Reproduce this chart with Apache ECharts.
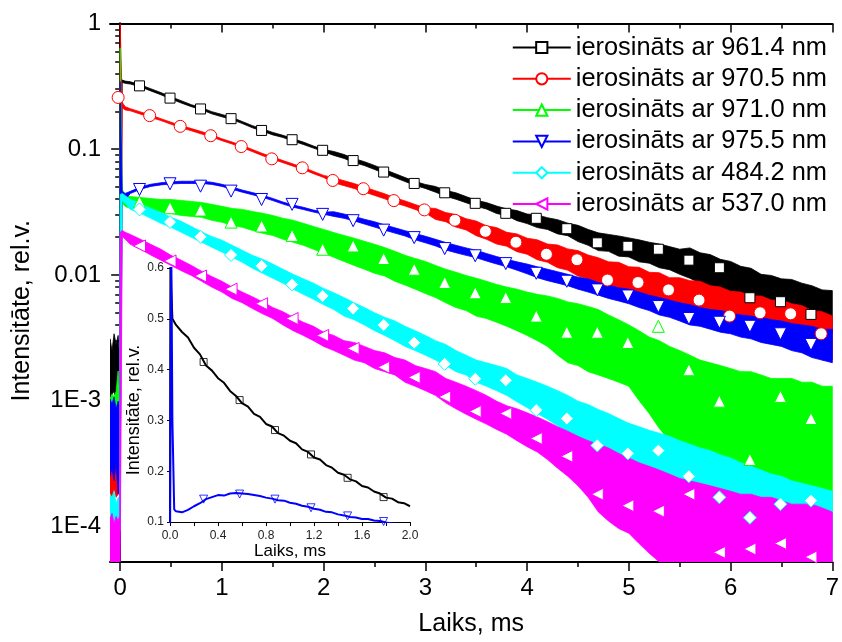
<!DOCTYPE html>
<html>
<head>
<meta charset="utf-8">
<script src="https://cdn.jsdelivr.net/npm/echarts@6/dist/echarts.min.js"></script>
<style>
html, body { margin: 0; padding: 0; background: #ffffff; }
#chart { width: 842px; height: 642px; }
</style>
</head>
<body>
<div id="chart"></div>
<script>
// ---- Luminescence decay curves (time in ms, intensity rel. units) ----
const timeMs = [
  -0.1, -0.08, -0.06, -0.04, -0.02, -0.005, 0, 0.02, 0.05,
  0.1, 0.2, 0.3, 0.4, 0.5, 0.6, 0.7, 0.8, 0.9, 1.0,
  1.1, 1.2, 1.3, 1.4, 1.5, 1.6, 1.7, 1.8, 1.9, 2.0,
  2.1, 2.2, 2.3, 2.4, 2.5, 2.6, 2.7, 2.8, 2.9, 3.0,
  3.1, 3.2, 3.3, 3.4, 3.5, 3.6, 3.7, 3.8, 3.9, 4.0,
  4.1, 4.2, 4.3, 4.4, 4.5, 4.6, 4.7, 4.8, 4.9, 5.0,
  5.1, 5.2, 5.3, 5.4, 5.5, 5.6, 5.7, 5.8, 5.9, 6.0,
  6.1, 6.2, 6.3, 6.4, 6.5, 6.6, 6.7, 6.8, 6.9, 7.0
];

// upper / lower edges of the noisy trace for each excitation wavelength
const exc961Hi = [
  0.0031, 0.0025, 0.0034, 0.0028, 0.0033, 0.0021, 0.356, 0.355, 0.348,
  0.344, 0.325, 0.303, 0.282, 0.261, 0.243, 0.226, 0.214, 0.199, 0.189,
  0.179, 0.166, 0.154, 0.145, 0.136, 0.129, 0.121, 0.114, 0.106, 0.0995,
  0.0959, 0.0908, 0.0842, 0.0796, 0.0743, 0.0689, 0.0640, 0.0595, 0.0554, 0.0524,
  0.0505, 0.0470, 0.0450, 0.0420, 0.0392, 0.0376, 0.0353, 0.0335, 0.0325, 0.0305,
  0.0300, 0.0285, 0.0275, 0.0258, 0.0248, 0.0230, 0.0216, 0.0210, 0.0204, 0.0197,
  0.0190, 0.0182, 0.0176, 0.0168, 0.0160, 0.0164, 0.0150, 0.0145, 0.0133, 0.0128,
  0.0117, 0.0113, 0.0101, 0.0099, 0.0093, 0.0092, 0.0086, 0.0082, 0.0076, 0.0075
];
const exc961Lo = [
  0.00103, 0.00113, 0.00118, 0.00103, 0.00111, 0.00099, 0.00099, 0.340, 0.334,
  0.330, 0.313, 0.291, 0.271, 0.251, 0.233, 0.218, 0.206, 0.191, 0.181,
  0.172, 0.160, 0.148, 0.139, 0.130, 0.124, 0.116, 0.109, 0.102, 0.0956,
  0.0892, 0.0845, 0.0783, 0.0741, 0.0690, 0.0640, 0.0595, 0.0553, 0.0515, 0.0487,
  0.0455, 0.0422, 0.0400, 0.0375, 0.0352, 0.0334, 0.0308, 0.0296, 0.0270, 0.0256,
  0.0238, 0.0230, 0.0212, 0.0205, 0.0184, 0.0172, 0.0156, 0.0154, 0.0141, 0.0139,
  0.0127, 0.0124, 0.0114, 0.0110, 0.0101, 0.0094, 0.0086, 0.0082, 0.0073, 0.0070,
  0.0062, 0.0060, 0.0053, 0.0051, 0.0047, 0.0045, 0.0041, 0.0039, 0.0036, 0.0034
];

const exc970Hi = [
  0.00045, 0.0005, 0.00042, 0.00045, 0.0005, 0.00045, 1.0, 0.235, 0.218,
  0.210, 0.198, 0.187, 0.175, 0.164, 0.154, 0.146, 0.138, 0.130, 0.121,
  0.114, 0.107, 0.0995, 0.0924, 0.0867, 0.0813, 0.0763, 0.0717, 0.0665, 0.0619,
  0.0593, 0.0562, 0.0533, 0.0500, 0.0470, 0.0442, 0.0410, 0.0388, 0.0363, 0.0341,
  0.0338, 0.0313, 0.0302, 0.0280, 0.0268, 0.0246, 0.0238, 0.0218, 0.0212, 0.0196,
  0.0190, 0.0176, 0.0173, 0.0161, 0.0156, 0.0144, 0.0137, 0.0127, 0.0126, 0.0116,
  0.0115, 0.0105, 0.0104, 0.0095, 0.0095, 0.0090, 0.0089, 0.0082, 0.0080, 0.0074,
  0.0073, 0.0068, 0.0068, 0.0063, 0.0063, 0.0059, 0.0057, 0.0052, 0.0051, 0.0047
];
const exc970Lo = [
  0.00018, 0.00017, 0.0002, 0.00017, 0.00018, 0.0002, 0.0002, 0.214, 0.205,
  0.202, 0.190, 0.179, 0.169, 0.158, 0.148, 0.140, 0.132, 0.125, 0.117,
  0.110, 0.103, 0.0956, 0.0888, 0.0833, 0.0781, 0.0733, 0.0689, 0.0639, 0.0595,
  0.0541, 0.0513, 0.0486, 0.0457, 0.0429, 0.0403, 0.0374, 0.0354, 0.0331, 0.0311,
  0.0276, 0.0265, 0.0240, 0.0228, 0.0205, 0.0192, 0.0176, 0.0169, 0.0153, 0.0146,
  0.0132, 0.0126, 0.0114, 0.0109, 0.0098, 0.0093, 0.0083, 0.0079, 0.0070, 0.0068,
  0.0062, 0.0061, 0.0054, 0.0053, 0.0049, 0.0046, 0.0042, 0.0041, 0.0038, 0.0037,
  0.0035, 0.0034, 0.0032, 0.0032, 0.0029, 0.0028, 0.0026, 0.0025, 0.0021, 0.0021
];

const exc971Hi = [
  0.00103, 0.00113, 0.00107, 0.00118, 0.00172, 0.00107, 0.64, 0.0478, 0.0436,
  0.0420, 0.0413, 0.0405, 0.0398, 0.0398, 0.0391, 0.0384, 0.0377, 0.0364, 0.0351,
  0.0338, 0.0332, 0.0320, 0.0309, 0.0297, 0.0282, 0.0272, 0.0257, 0.0243, 0.0230,
  0.0217, 0.0206, 0.0196, 0.0185, 0.0175, 0.0165, 0.0154, 0.0143, 0.0135, 0.0128,
  0.0119, 0.0111, 0.0105, 0.0099, 0.0094, 0.0089, 0.0084, 0.0080, 0.0077, 0.0073,
  0.0070, 0.0068, 0.0065, 0.0061, 0.0059, 0.0056, 0.0053, 0.0048, 0.0044, 0.0040,
  0.0036, 0.0032, 0.0030, 0.0027, 0.0025, 0.0023, 0.0021, 0.0020, 0.0019, 0.0018,
  0.0017, 0.0017, 0.0016, 0.0015, 0.0015, 0.0015, 0.0014, 0.0014, 0.0013, 0.0013
];
const exc971Lo = [
  0.00072, 0.00066, 0.00079, 0.00062, 0.00072, 0.00075, 0.00075, 0.0371, 0.0350,
  0.0338, 0.0332, 0.0320, 0.0314, 0.0308, 0.0297, 0.0292, 0.0287, 0.0272, 0.0262,
  0.0248, 0.0239, 0.0226, 0.0214, 0.0206, 0.0192, 0.0182, 0.0172, 0.0160, 0.0149,
  0.0138, 0.0128, 0.0119, 0.0111, 0.0103, 0.0098, 0.0089, 0.0083, 0.0077, 0.0071,
  0.0066, 0.0060, 0.0055, 0.0052, 0.0047, 0.0045, 0.0042, 0.0039, 0.0036, 0.0033,
  0.0030, 0.0027, 0.0023, 0.0020, 0.0019, 0.0017, 0.0016, 0.0015, 0.0014, 0.0013,
  0.0010, 0.00079, 0.0006, 0.00048, 0.0004, 0.00034, 0.0003, 0.00025, 0.0002, 0.00017,
  0.00017, 0.00015, 0.00015, 0.00014, 0.00012, 0.0001, 0.000088, 0.00008, 0.000073, 0.000067
];

const exc975Hi = [
  0.00103, 0.00094, 0.00107, 0.00086, 0.00099, 0.00088, 0.345, 0.0460, 0.0445,
  0.0462, 0.0500, 0.0526, 0.0541, 0.0551, 0.0556, 0.0556, 0.0556, 0.0546, 0.0526,
  0.0500, 0.0473, 0.0452, 0.0430, 0.0406, 0.0380, 0.0360, 0.0345, 0.0328, 0.0316,
  0.0318, 0.0305, 0.0292, 0.0277, 0.0265, 0.0250, 0.0237, 0.0225, 0.0213, 0.0203,
  0.0192, 0.0181, 0.0172, 0.0164, 0.0157, 0.0148, 0.0140, 0.0133, 0.0127, 0.0122,
  0.0116, 0.0111, 0.0106, 0.0101, 0.0096, 0.0093, 0.0087, 0.0083, 0.0079, 0.0077,
  0.0073, 0.0069, 0.0066, 0.0063, 0.0060, 0.0058, 0.0055, 0.0053, 0.0052, 0.0050,
  0.0048, 0.0047, 0.0046, 0.0044, 0.0043, 0.0041, 0.0040, 0.0039, 0.0037, 0.0037
];
const exc975Lo = [
  0.00025, 0.00029, 0.00023, 0.00032, 0.00018, 0.00026, 0.00026, 0.0405, 0.0398,
  0.0444, 0.0480, 0.0506, 0.0520, 0.0529, 0.0534, 0.0534, 0.0534, 0.0525, 0.0506,
  0.0480, 0.0455, 0.0434, 0.0414, 0.0390, 0.0366, 0.0346, 0.0331, 0.0316, 0.0304,
  0.0292, 0.0282, 0.0269, 0.0254, 0.0240, 0.0227, 0.0215, 0.0204, 0.0190, 0.0180,
  0.0170, 0.0158, 0.0150, 0.0143, 0.0137, 0.0129, 0.0122, 0.0116, 0.0109, 0.0102,
  0.0095, 0.0090, 0.0086, 0.0082, 0.0077, 0.0073, 0.0069, 0.0065, 0.0062, 0.0059,
  0.0055, 0.0052, 0.0048, 0.0046, 0.0043, 0.0040, 0.0039, 0.0037, 0.0035, 0.0034,
  0.0032, 0.0031, 0.0029, 0.0028, 0.0027, 0.0025, 0.0024, 0.0022, 0.0021, 0.0020
];

const exc484Hi = [
  0.00018, 0.00017, 0.00019, 0.00015, 0.00017, 0.00017, 0.0436, 0.0445, 0.0427,
  0.0398, 0.0371, 0.0338, 0.0314, 0.0287, 0.0267, 0.0243, 0.0220, 0.0202, 0.0189,
  0.0172, 0.0157, 0.0143, 0.0133, 0.0122, 0.0111, 0.0101, 0.0093, 0.0086, 0.0078,
  0.0072, 0.0066, 0.0060, 0.0055, 0.0050, 0.0046, 0.0043, 0.0039, 0.0036, 0.0033,
  0.0030, 0.0028, 0.0025, 0.0023, 0.0021, 0.0020, 0.0019, 0.0018, 0.0016, 0.0015,
  0.0014, 0.0013, 0.0012, 0.0011, 0.00099, 0.00093, 0.00085, 0.00079, 0.00072, 0.00066,
  0.00062, 0.00058, 0.00055, 0.00052, 0.00048, 0.00045, 0.00042, 0.0004, 0.00037, 0.00035,
  0.00032, 0.0003, 0.00028, 0.00026, 0.00025, 0.00023, 0.00022, 0.00021, 0.0002, 0.00019
];
const exc484Lo = [
  0.000088, 0.000096, 0.00008, 0.000099, 0.000083, 0.000092, 0.000092, 0.0391, 0.0371,
  0.0332, 0.0309, 0.0282, 0.0257, 0.0239, 0.0218, 0.0199, 0.0182, 0.0166, 0.0152,
  0.0138, 0.0126, 0.0113, 0.0103, 0.0094, 0.0086, 0.0077, 0.0070, 0.0064, 0.0058,
  0.0053, 0.0047, 0.0044, 0.0040, 0.0036, 0.0033, 0.0030, 0.0027, 0.0025, 0.0023,
  0.0021, 0.0019, 0.0017, 0.0016, 0.0014, 0.0013, 0.0012, 0.0011, 0.00098, 0.00088,
  0.00079, 0.00071, 0.00063, 0.00056, 0.0005, 0.00045, 0.0004, 0.00036, 0.00032, 0.00029,
  0.00026, 0.00023, 0.00021, 0.00019, 0.00017, 0.00015, 0.00013, 0.00012, 0.00011, 0.000096,
  0.00008, 0.000067, 0.000056, 0.00005, 0.00005, 0.00005, 0.00005, 0.00005, 0.00005, 0.00005
];

const exc537Hi = [
  0.000116, 0.000127, 0.000105, 0.00012, 0.00011, 0.000122, 0.0218, 0.0226, 0.0218,
  0.0210, 0.0192, 0.0175, 0.0160, 0.0143, 0.0131, 0.0119, 0.0107, 0.0097, 0.0089,
  0.0080, 0.0073, 0.0067, 0.0061, 0.0055, 0.0051, 0.0046, 0.0042, 0.0039, 0.0035,
  0.0033, 0.0030, 0.0029, 0.0027, 0.0025, 0.0024, 0.0022, 0.0021, 0.0019, 0.0018,
  0.0017, 0.0015, 0.0014, 0.0013, 0.0012, 0.0011, 0.00099, 0.00091, 0.00086, 0.0008,
  0.00074, 0.00068, 0.00062, 0.00057, 0.00052, 0.00048, 0.00045, 0.00042, 0.00038, 0.00035,
  0.00032, 0.0003, 0.00028, 0.00026, 0.00024, 0.00023, 0.00022, 0.00021, 0.0002, 0.00019,
  0.00018, 0.00018, 0.00017, 0.00017, 0.00016, 0.00015, 0.00015, 0.00015, 0.00014, 0.00013
];
const exc537Lo = [
  0.00005, 0.00005, 0.00005, 0.00005, 0.00005, 0.00005, 0.00005, 0.0202, 0.0192,
  0.0175, 0.0160, 0.0144, 0.0131, 0.0119, 0.0108, 0.0099, 0.0089, 0.0080, 0.0073,
  0.0065, 0.0060, 0.0054, 0.0049, 0.0045, 0.0040, 0.0036, 0.0033, 0.0030, 0.0027,
  0.0025, 0.0023, 0.0021, 0.0020, 0.0018, 0.0017, 0.0016, 0.0014, 0.0013, 0.0012,
  0.0011, 0.00096, 0.00086, 0.00078, 0.00071, 0.00065, 0.00059, 0.00054, 0.00048, 0.00043,
  0.00039, 0.00034, 0.00029, 0.00025, 0.00021, 0.00017, 0.00013, 0.00011, 0.000096, 0.000088,
  0.000073, 0.000061, 0.00005, 0.00005, 0.00005, 0.00005, 0.00005, 0.00005, 0.00005, 0.00005,
  0.00005, 0.00005, 0.00005, 0.00005, 0.00005, 0.00005, 0.00005, 0.00005, 0.00005, 0.00005
];

// symbols sit on every n-th sample of each trace
const markTimes = [0.19, 0.49, 0.79, 1.09, 1.39, 1.69, 1.99, 2.29, 2.59, 2.89, 3.19, 3.49,
  3.79, 4.09, 4.39, 4.69, 4.99, 5.29, 5.59, 5.89, 6.19, 6.49, 6.79];
const markTimes970 = [-0.02, 0.29, 0.59, 0.89, 1.19, 1.49, 1.79, 2.09, 2.39, 2.69, 2.99, 3.29,
  3.59, 3.89, 4.19, 4.49, 4.79, 5.09, 5.39, 5.69, 5.99, 6.29, 6.59, 6.89];
const marks961 = [0.319, 0.255, 0.209, 0.175, 0.141, 0.119, 0.098, 0.0812, 0.0658, 0.0534, 0.045, 0.0371,
  0.0309, 0.0282, 0.0233, 0.018, 0.0169, 0.016, 0.0131, 0.0114, 0.00658, 0.00612, 0.00485];
const marks970 = [0.258, 0.185, 0.152, 0.128, 0.105, 0.0838, 0.0711, 0.0564, 0.0485, 0.039, 0.0329, 0.0272,
  0.0222, 0.0182, 0.0146, 0.0132, 0.0091, 0.0087, 0.0076, 0.0063, 0.0047, 0.005, 0.0049, 0.0034];
const marks971 = [0.038, 0.0342, 0.0328, 0.0263, 0.0245, 0.0206, 0.016, 0.017, 0.0135, 0.0111, 0.0087, 0.0072,
  0.0066, 0.0047, 0.0035, 0.0035, 0.0029, 0.0039, 0.00176, 0.00099, 0.00034, 0.00108, 0.00072];
const marks975 = [0.0478, 0.0531, 0.0508, 0.0464, 0.0398, 0.0364, 0.0303, 0.027, 0.0227, 0.0198, 0.0162, 0.0142,
  0.0123, 0.0103, 0.0089, 0.0076, 0.0068, 0.0056, 0.0045, 0.0042, 0.0039, 0.0034, 0.0028];
const marks484 = [0.0332, 0.0263, 0.0201, 0.0144, 0.0118, 0.0084, 0.0068, 0.0054, 0.004, 0.00289, 0.00196, 0.00149,
  0.00145, 0.00084, 0.00072, 0.00044, 0.00038, 0.0004, 0.00025, 0.00017, 0.000117, 0.00015, 0.00016];
const marks537 = [0.017, 0.0129, 0.0098, 0.0077, 0.0059, 0.0045, 0.0033, 0.0026, 0.00184, 0.00153, 0.00107, 0.00082,
  0.00079, 0.0005, 0.00036, 0.00018, 0.000146, 0.000132, 0.00018, 0.000062, 0.000066, 0.000073, 0.000057];

// inset: linear-scale view of the first 2 ms
const insetTime = [0, 0.004, 0.01, 0.02, 0.035, 0.05, 0.1, 0.15, 0.2, 0.25, 0.3, 0.35, 0.4, 0.45, 0.5,
  0.55, 0.6, 0.65, 0.7, 0.75, 0.8, 0.85, 0.9, 0.95, 1.0, 1.05, 1.1, 1.15, 1.2, 1.25, 1.3,
  1.35, 1.4, 1.45, 1.5, 1.55, 1.6, 1.65, 1.7, 1.75, 1.8, 1.85, 1.9, 1.95, 2.0];
const inset961 = [0.05, 0.66, 0.56, 0.50, 0.497, 0.488, 0.474, 0.463, 0.443, 0.43, 0.408, 0.398, 0.383, 0.374, 0.358,
  0.348, 0.334, 0.327, 0.313, 0.307, 0.293, 0.288, 0.275, 0.27, 0.26, 0.255, 0.243, 0.238, 0.227, 0.223, 0.212,
  0.207, 0.197, 0.193, 0.184, 0.18, 0.171, 0.168, 0.16, 0.156, 0.148, 0.146, 0.139, 0.137, 0.131];
const inset975 = [0.05, 0.05, 0.66, 0.30, 0.125, 0.121, 0.119, 0.124, 0.131, 0.137, 0.145, 0.149, 0.153, 0.152, 0.156,
  0.157, 0.156, 0.155, 0.153, 0.151, 0.148, 0.146, 0.143, 0.142, 0.138, 0.136, 0.132, 0.13, 0.126, 0.124, 0.12,
  0.119, 0.115, 0.113, 0.11, 0.109, 0.106, 0.106, 0.103, 0.102, 0.099, 0.097, 0.096, 0.094, 0.093];
const insetMarkTimes = [0.28, 0.58, 0.875, 1.175, 1.48, 1.78];
const insetMarks961 = [0.415, 0.34, 0.281, 0.233, 0.187, 0.149];
const insetMarks975 = [0.145, 0.155, 0.145, 0.128, 0.112, 0.101];

// axis ticks
const xMajorTicks = [0, 1, 2, 3, 4, 5, 6, 7];
const xMinorTicks = [0.5, 1.5, 2.5, 3.5, 4.5, 5.5, 6.5];
const yMajorTicks = [1e-4, 1e-3, 0.01, 0.1, 1];
const yMinorTicks = [6e-5, 7e-5, 8e-5, 9e-5];
[1e-4, 1e-3, 1e-2, 1e-1].forEach(d => { for (let k = 2; k <= 9; k++) yMinorTicks.push(+(d * k).toPrecision(3)); });
const insetXTicks = [0, 0.2, 0.4, 0.6, 0.8, 1.0, 1.2, 1.4, 1.6, 1.8, 2.0];
const insetXLabels = [0, 0.4, 0.8, 1.2, 1.6, 2.0];

const FONT = 'Liberation Sans, Arial, Helvetica, sans-serif';
const Y_MIN = 5.2e-5, Y_MAX = 1;

const traces = [
  { name: 'ierosināts ar 961.4 nm', color: '#000000', hi: exc961Hi, lo: exc961Lo, mt: markTimes, mv: marks961, symbol: 'rect', size: 10, rot: 0 },
  { name: 'ierosināts ar 970.5 nm', color: '#ff0000', hi: exc970Hi, lo: exc970Lo, mt: markTimes970, mv: marks970, symbol: 'circle', size: 12, rot: 0 },
  { name: 'ierosināts ar 971.0 nm', color: '#00ff00', hi: exc971Hi, lo: exc971Lo, mt: markTimes, mv: marks971, symbol: 'triangle', size: 12, rot: 0 },
  { name: 'ierosināts ar 975.5 nm', color: '#0000ff', hi: exc975Hi, lo: exc975Lo, mt: markTimes, mv: marks975, symbol: 'triangle', size: 12, rot: 180 },
  { name: 'ierosināts ar 484.2 nm', color: '#00ffff', hi: exc484Hi, lo: exc484Lo, mt: markTimes, mv: marks484, symbol: 'diamond', size: 13, rot: 0 },
  { name: 'ierosināts ar 537.0 nm', color: '#ff00ff', hi: exc537Hi, lo: exc537Lo, mt: markTimes, mv: marks537, symbol: 'triangle', size: 12, rot: 90 }
];

function bandSeries(tr, idx) {
  return {
    type: 'custom', id: 'band' + idx, xAxisIndex: 0, yAxisIndex: 0,
    clip: true, silent: true,
    data: [[timeMs[0], tr.hi[0]]],
    renderItem(params, api) {
      const cs = params.coordSys;
      const clampY = y => Math.max(cs.y, Math.min(cs.y + cs.height, y));
      const pts = [];
      for (let i = 0; i < timeMs.length; i++) {
        const p = api.coord([timeMs[i], tr.hi[i]]);
        pts.push([p[0], clampY(p[1])]);
      }
      for (let i = timeMs.length - 1; i >= 0; i--) {
        const p = api.coord([timeMs[i], tr.lo[i]]);
        pts.push([p[0], clampY(p[1])]);
      }
      return {
        type: 'polygon',
        shape: { points: pts },
        style: { fill: tr.color, stroke: tr.color, lineWidth: 0.8, lineJoin: 'bevel' }
      };
    }
  };
}

function markerSeries(tr, idx) {
  return {
    type: 'scatter', id: 'marks' + idx, xAxisIndex: 0, yAxisIndex: 0,
    silent: true, clip: true,
    symbol: tr.symbol, symbolSize: tr.size, symbolRotate: tr.rot,
    itemStyle: { color: '#ffffff', borderColor: tr.color, borderWidth: 1, opacity: 1 },
    data: tr.mt.map((t, i) => [t, tr.mv[i]])
  };
}

function legendSeries(tr) {
  return {
    type: 'line', name: tr.name, xAxisIndex: 0, yAxisIndex: 0, data: [],
    symbol: tr.symbol, symbolSize: tr.size, symbolRotate: tr.rot,
    itemStyle: { color: '#ffffff', borderColor: tr.color, borderWidth: 1.2 },
    lineStyle: { color: tr.color, width: 2 }
  };
}

const series = [];
traces.forEach((tr, i) => { series.push(bandSeries(tr, i)); series.push(markerSeries(tr, i)); });
traces.forEach(tr => series.push(legendSeries(tr)));

// inset traces
series.push({
  type: 'line', id: 'inset961', xAxisIndex: 4, yAxisIndex: 4, clip: true, silent: true,
  showSymbol: false, lineStyle: { color: '#000000', width: 2 },
  data: insetTime.map((t, i) => [t, inset961[i]])
});
series.push({
  type: 'line', id: 'inset975', xAxisIndex: 4, yAxisIndex: 4, clip: true, silent: true,
  showSymbol: false, lineStyle: { color: '#0000ff', width: 2 },
  data: insetTime.map((t, i) => [t, inset975[i]])
});
series.push({
  type: 'scatter', id: 'insetMarks961', xAxisIndex: 4, yAxisIndex: 4, silent: true,
  symbol: 'rect', symbolSize: 7,
  itemStyle: { color: '#ffffff', borderColor: '#000000', borderWidth: 1 },
  data: insetMarkTimes.map((t, i) => [t, insetMarks961[i]])
});
series.push({
  type: 'scatter', id: 'insetMarks975', xAxisIndex: 4, yAxisIndex: 4, silent: true,
  symbol: 'triangle', symbolSize: 8, symbolRotate: 180,
  itemStyle: { color: '#ffffff', borderColor: '#0000ff', borderWidth: 1 },
  data: insetMarkTimes.map((t, i) => [t, insetMarks975[i]])
});

const axisBlack = { show: true, lineStyle: { color: '#000', width: 2 } };
const noLine = { show: false };

function mainX(position, ticks, len, inside, labels) {
  return {
    type: 'value', gridIndex: 0, position, min: -0.1, max: 7,
    axisLine: (ticks === xMajorTicks) ? axisBlack : noLine,
    splitLine: { show: false },
    axisTick: { show: true, inside, length: len, customValues: ticks, lineStyle: { color: '#000', width: 1.5 } },
    axisLabel: labels ? { show: true, customValues: xMajorTicks, fontSize: 24, fontFamily: FONT, color: '#000', margin: 14 } : { show: false }
  };
}
function mainY(position, ticks, len, inside, labels) {
  return {
    type: 'log', logBase: 10, gridIndex: 0, position, min: Y_MIN, max: Y_MAX,
    axisLine: (ticks === yMajorTicks) ? axisBlack : noLine,
    splitLine: { show: false }, minorTick: { show: false },
    axisTick: { show: true, inside, length: len, customValues: ticks, lineStyle: { color: '#000', width: 1.5 } },
    axisLabel: labels ? {
      show: true, customValues: yMajorTicks, fontSize: 24, fontFamily: FONT, color: '#000', margin: 9,
      formatter: v => (v >= 0.01 ? String(+(+v).toPrecision(1)) : '1E' + Math.round(Math.log10(v)))
    } : { show: false }
  };
}

const xAxes = [
  Object.assign(mainX('bottom', xMajorTicks, 9, false, true), {
    name: 'Laiks, ms', nameLocation: 'middle', nameGap: 50,
    nameTextStyle: { fontSize: 25, fontFamily: FONT, color: '#000' }
  }),
  mainX('bottom', xMinorTicks, 5, false, false),
  mainX('top', xMajorTicks, 9, true, false),
  mainX('top', xMinorTicks, 5, true, false),
  {
    type: 'value', gridIndex: 1, position: 'bottom', min: 0, max: 2,
    axisLine: { show: true, lineStyle: { color: '#000', width: 1 } },
    splitLine: { show: false },
    axisTick: { show: true, inside: false, length: 4, customValues: insetXTicks, lineStyle: { color: '#000', width: 1 } },
    axisLabel: { show: true, customValues: insetXLabels, fontSize: 12, fontFamily: FONT, color: '#222', margin: 8, formatter: v => (+v).toFixed(1) },
    name: 'Laiks, ms', nameLocation: 'middle', nameGap: 19,
    nameTextStyle: { fontSize: 17, fontFamily: FONT, color: '#000' }
  }
];

const yAxes = [
  Object.assign(mainY('left', yMajorTicks, 9, false, true), {
    name: 'Intensitāte, rel.v.', nameLocation: 'middle', nameGap: 75, nameRotate: 90,
    nameTextStyle: { fontSize: 25, fontFamily: FONT, color: '#000', padding: [0, 36, 0, 0] }
  }),
  mainY('left', yMinorTicks, 5, false, false),
  mainY('right', yMajorTicks, 9, true, false),
  mainY('right', yMinorTicks, 5, true, false),
  {
    type: 'value', gridIndex: 1, position: 'left', min: 0.1, max: 0.6, interval: 0.1,
    axisLine: { show: true, lineStyle: { color: '#000', width: 1 } },
    splitLine: { show: false },
    axisTick: { show: true, inside: false, length: 3, lineStyle: { color: '#000', width: 1 } },
    axisLabel: { show: true, fontSize: 12, fontFamily: FONT, color: '#222', margin: 6, formatter: v => (+v).toFixed(1) },
    name: 'Intensitāte, rel.v.', nameLocation: 'middle', nameGap: 24, nameRotate: 90,
    nameTextStyle: { fontSize: 18, fontFamily: FONT, color: '#000', padding: [0, 30, 0, 0] }
  }
];

const chart = echarts.init(document.getElementById('chart'), null, { renderer: 'canvas' });
chart.setOption({
  animation: false,
  backgroundColor: '#ffffff',
  grid: [
    { left: 110, right: 5, top: 23.5, bottom: 78.5 },
    { left: 170, top: 268, width: 240, height: 254 }
  ],
  legend: {
    orient: 'vertical', right: 10, top: 30, selectedMode: false,
    itemWidth: 58, itemHeight: 14, itemGap: 6.3,
    textStyle: { fontSize: 25.4, fontFamily: FONT, color: '#000', lineHeight: 24.6 },
    data: traces.map(t => t.name)
  },
  xAxis: xAxes,
  yAxis: yAxes,
  series
});
</script>
</body>
</html>
